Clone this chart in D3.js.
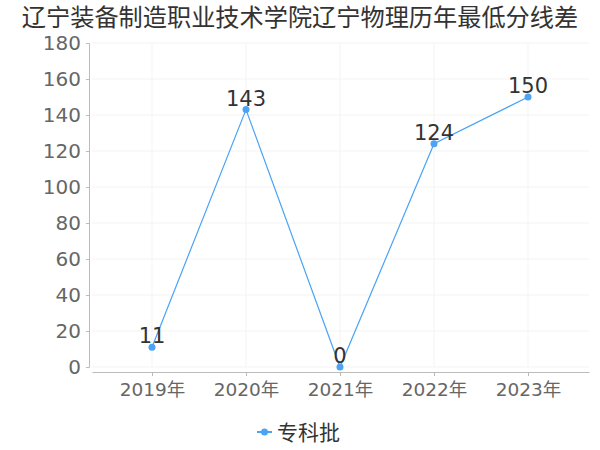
<!DOCTYPE html>
<html><head><meta charset="utf-8">
<script src="https://cdn.jsdelivr.net/npm/d3@7/dist/d3.min.js"></script>
<style>body{margin:0;background:#fff;font-family:"DejaVu Sans","Noto Sans CJK SC",sans-serif}</style>
</head><body><svg id="c" width="600" height="450"></svg>
<script>
const title = "辽宁装备制造职业技术学院辽宁物理历年最低分线差";
const categories = ["2019年","2020年","2021年","2022年","2023年"];
const values = [11, 143, 0, 124, 150];
const yTicks = [0,20,40,60,80,100,120,140,160,180];
const seriesName = "专科批";
const color = "#4aa3f5";

const svg = d3.select("#c");
const font = '"DejaVu Sans","Noto Sans CJK SC",sans-serif';
svg.append("text").attr("x",300).attr("y",26).attr("text-anchor","middle")
  .attr("font-size",24.2).attr("fill","#333").attr("font-family",font).text(title);

const x = d3.scalePoint().domain(categories).range([152,528]);
const y = d3.scaleLinear().domain([0,180]).range([367,43]);

// grid
const g = svg.append("g");
g.selectAll(".hg").data(yTicks).enter().append("line")
  .attr("x1",92).attr("x2",589).attr("y1",d=>y(d)).attr("y2",d=>y(d))
  .attr("stroke","#f3f3f3").attr("stroke-width",1);
g.selectAll(".vg").data(categories).enter().append("line")
  .attr("x1",d=>x(d)).attr("x2",d=>x(d)).attr("y1",43).attr("y2",367)
  .attr("stroke","#f3f3f3").attr("stroke-width",1);

// y axis
const ya = svg.append("g").attr("transform","translate(89,0)")
  .call(d3.axisLeft(y).tickValues(yTicks).tickSize(3).tickPadding(5));
ya.select(".domain").attr("stroke","#bbb");
ya.selectAll(".tick line").attr("stroke","#bbb");
ya.selectAll("text").attr("font-size",20).attr("fill","#666").attr("font-family",font);

// x axis
const xa = svg.append("g").attr("transform","translate(0,372)")
  .call(d3.axisBottom(x).tickSize(4).tickPadding(7));
xa.select(".domain").attr("d","M92.5,0.5H589.5").attr("stroke","#bbb");
xa.selectAll(".tick line").attr("stroke","#bbb");
xa.selectAll("text").attr("font-size",18.5).attr("fill","#666").attr("font-family",font);

// line
const line = d3.line().x((d,i)=>x(categories[i])).y(d=>y(d));
svg.append("path").datum(values).attr("d",line).attr("fill","none")
  .attr("stroke",color).attr("stroke-width",1.2);
svg.selectAll(".pt").data(values).enter().append("circle")
  .attr("cx",(d,i)=>x(categories[i])).attr("cy",d=>y(d)).attr("r",3.5).attr("fill",color);
svg.selectAll(".lb").data(values).enter().append("text")
  .attr("x",(d,i)=>x(categories[i])).attr("y",d=>y(d)-4)
  .attr("text-anchor","middle").attr("font-size",21).attr("fill","#333")
  .attr("font-family",font).text(d=>d);

// legend
const lg = svg.append("g").attr("transform","translate(257,432)");
lg.append("line").attr("x1",0).attr("x2",15).attr("y1",0).attr("y2",0).attr("stroke",color).attr("stroke-width",2);
lg.append("circle").attr("cx",7.5).attr("cy",0).attr("r",3.5).attr("fill",color);
lg.append("text").attr("x",20).attr("y",8).attr("font-size",21).attr("fill","#333")
  .attr("font-family",font).text(seriesName);
</script></body></html>
